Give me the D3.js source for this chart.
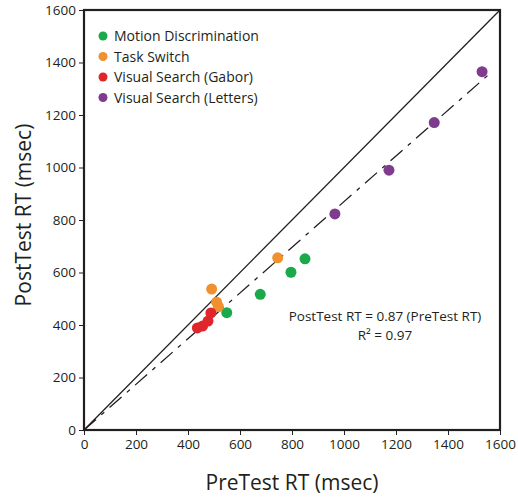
<!DOCTYPE html>
<html>
<head>
<meta charset="utf-8">
<script src="https://cdn.jsdelivr.net/npm/d3@7"></script>
<style>
  body { margin: 0; background: #fff; }
  svg { font-family: "Open Sans", "Noto Sans", sans-serif; }
</style>
</head>
<body>
<svg width="518" height="501"></svg>
<script>
// data
const seriesNames = ['Motion Discrimination', 'Task Switch', 'Visual Search (Gabor)', 'Visual Search (Letters)']
const seriesColors = ['#1aaa4b', '#f0902e', '#e1262b', '#7f3b8d']

const motionPre = [549, 678, 796, 850]
const motionPost = [447, 517, 601, 652]
const switchPre = [491, 510, 517, 745]
const switchPost = [537, 487, 470, 656]
const gaborPre = [436, 456, 477, 488]
const gaborPost = [389, 396, 415, 446]
const lettersPre = [965, 1173, 1347, 1531]
const lettersPost = [823, 990, 1171, 1365]

const axisTicks = [0, 200, 400, 600, 800, 1000, 1200, 1400, 1600]
const fitSlope = 0.87
const fitEnd = 1570

const groups = [
  { pre: motionPre, post: motionPost },
  { pre: switchPre, post: switchPost },
  { pre: gaborPre, post: gaborPost },
  { pre: lettersPre, post: lettersPost }
]

const svg = d3.select('svg')
const x = d3.scaleLinear().domain([0, 1600]).range([84, 500])
const y = d3.scaleLinear().domain([0, 1600]).range([430, 10])

// axes
const fmt = d3.format('d')
const xAxis = d3.axisBottom(x).tickValues(axisTicks).tickFormat(fmt).tickSize(5).tickPadding(4).tickSizeOuter(0)
const yAxis = d3.axisLeft(y).tickValues(axisTicks).tickFormat(fmt).tickSize(5).tickPadding(3).tickSizeOuter(0)

svg.append('g').attr('transform', 'translate(0,430)').call(xAxis)
svg.append('g').attr('transform', 'translate(84,0)').call(yAxis)
svg.selectAll('.tick text').attr('font-size', 13.5).attr('fill', '#231f20').attr('font-family', '"Open Sans", sans-serif')
svg.selectAll('.tick line').attr('stroke', '#231f20')
svg.selectAll('.domain').remove()

// frame
svg.append('rect')
  .attr('x', x(0)).attr('y', y(1600))
  .attr('width', x(1600) - x(0)).attr('height', y(0) - y(1600))
  .attr('fill', 'none').attr('stroke', '#231f20').attr('stroke-width', 2.2)

// identity line
svg.append('line')
  .attr('x1', x(0)).attr('y1', y(0)).attr('x2', x(1600)).attr('y2', y(1600))
  .attr('stroke', '#231f20').attr('stroke-width', 1.3)

// regression line
svg.append('line')
  .attr('x1', x(0)).attr('y1', y(0)).attr('x2', x(fitEnd)).attr('y2', y(fitEnd * fitSlope))
  .attr('stroke', '#231f20').attr('stroke-width', 1.3)
  .attr('stroke-dasharray', '16,7,4,7')

// points
groups.forEach((g, i) => {
  svg.append('g').selectAll('circle')
    .data(g.pre)
    .enter().append('circle')
    .attr('cx', d => x(d))
    .attr('cy', (d, j) => y(g.post[j]))
    .attr('r', 5.5)
    .attr('fill', seriesColors[i])
})

// legend
const legend = svg.append('g')
seriesNames.forEach((name, i) => {
  const ly = 36 + i * 20.5
  legend.append('circle').attr('cx', 103).attr('cy', ly).attr('r', 4.5).attr('fill', seriesColors[i])
  legend.append('text').attr('x', 114).attr('y', ly + 5)
    .attr('font-size', 14).attr('fill', '#231f20').text(name)
})

// equation
const eq = svg.append('g').attr('text-anchor', 'middle').attr('fill', '#231f20').attr('font-size', 13.5)
eq.append('text').attr('x', 385).attr('y', 321).text('PostTest RT = 0.87 (PreTest RT)')
eq.append('text').attr('x', 385).attr('y', 340).text('R\u00b2 = 0.97')

// axis titles
svg.append('text').attr('x', 292).attr('y', 490).attr('text-anchor', 'middle')
  .attr('font-size', 21).attr('fill', '#231f20').text('PreTest RT (msec)')
svg.append('text').attr('transform', 'translate(31,215) rotate(-90)').attr('text-anchor', 'middle')
  .attr('font-size', 21).attr('fill', '#231f20').text('PostTest RT (msec)')
</script>
</body>
</html>
